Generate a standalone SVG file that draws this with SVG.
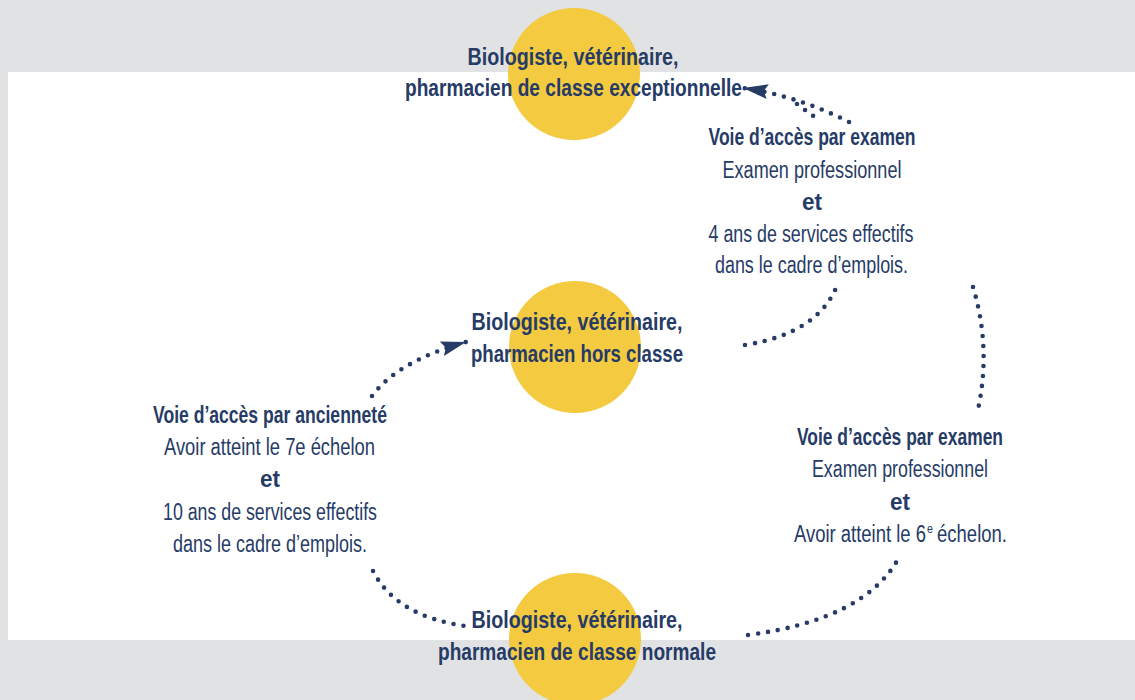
<svg xmlns="http://www.w3.org/2000/svg" width="1135" height="700" viewBox="0 0 1135 700">
<style>
.t{font-family:"Liberation Sans",Arial,sans-serif;fill:#263b66;text-anchor:middle}
.s{text-anchor:start}
.b{font-weight:bold;font-size:24.5px}
.r{font-size:23px}
.dots{fill:none;stroke:#263b66;stroke-width:4.6;stroke-linecap:round;stroke-dasharray:0 10}
.circ{fill:#f3ca40}
</style>
<defs>
<marker id="ah" markerUnits="userSpaceOnUse" markerWidth="32" markerHeight="22" viewBox="-27 -11 32 22" refX="0" refY="0" orient="auto">
<path d="M0,0 L-25,-7.5 L-21,0 L-25,7.5 Z" fill="#263b66"/>
</marker>
</defs>
<rect x="0" y="0" width="1135" height="700" fill="#e1e2e4"/>
<rect x="8" y="72" width="1127" height="568" fill="#ffffff"/>

<g id="connectors">
<path class="dots" d="M849 122 Q798 96 743 88" marker-end="url(#ah)"/>
<path class="dots" d="M797 104 L816 118"/>
<path class="dots" d="M745 345 Q820 333 838 283"/>
<path class="dots" d="M973 287 Q992 350 977 414"/>
<path class="dots" d="M748 635 Q862 620 897 561"/>
<path class="dots" d="M373 571 Q396 616 465 626"/>
<path class="dots" d="M372 396 Q398 361 466 342" marker-end="url(#ah)"/>
</g>

<g id="node-exceptionnelle">
<circle class="circ" cx="574" cy="74" r="66"/>
<text class="t b" x="573" y="65" textLength="211" lengthAdjust="spacingAndGlyphs">Biologiste, vétérinaire,</text>
<text class="t b" x="573.5" y="96" textLength="337" lengthAdjust="spacingAndGlyphs">pharmacien de classe exceptionnelle</text>
</g>

<g id="node-hors-classe">
<circle class="circ" cx="575" cy="347" r="66"/>
<text class="t b" x="577" y="330" textLength="211" lengthAdjust="spacingAndGlyphs">Biologiste, vétérinaire,</text>
<text class="t b" x="577" y="362" textLength="212" lengthAdjust="spacingAndGlyphs">pharmacien hors classe</text>
</g>

<g id="node-normale">
<circle class="circ" cx="575" cy="639" r="66"/>
<text class="t b" x="577" y="628" textLength="211" lengthAdjust="spacingAndGlyphs">Biologiste, vétérinaire,</text>
<text class="t b" x="577" y="660" textLength="278" lengthAdjust="spacingAndGlyphs">pharmacien de classe normale</text>
</g>

<g id="label-examen-exceptionnelle">
<text class="t b" x="812" y="145" textLength="207" lengthAdjust="spacingAndGlyphs">Voie d’accès par examen</text>
<text class="t r" x="812" y="178" textLength="179" lengthAdjust="spacingAndGlyphs">Examen professionnel</text>
<text class="t b" x="812" y="210" textLength="20" lengthAdjust="spacingAndGlyphs">et</text>
<text class="t r" x="811" y="242" textLength="205" lengthAdjust="spacingAndGlyphs">4 ans de services effectifs</text>
<text class="t r" x="811.5" y="273" textLength="193" lengthAdjust="spacingAndGlyphs">dans le cadre d’emplois.</text>
</g>

<g id="label-examen-hors-classe">
<text class="t b" x="900" y="445" textLength="206" lengthAdjust="spacingAndGlyphs">Voie d’accès par examen</text>
<text class="t r" x="900" y="477" textLength="176" lengthAdjust="spacingAndGlyphs">Examen professionnel</text>
<text class="t b" x="900" y="510" textLength="20" lengthAdjust="spacingAndGlyphs">et</text>
<text class="t r s" x="794" y="542" textLength="132" lengthAdjust="spacingAndGlyphs">Avoir atteint le 6</text>
<text class="t s" x="927" y="533" font-size="12" textLength="6" lengthAdjust="spacingAndGlyphs">e</text>
<text class="t r s" x="937" y="542" textLength="70" lengthAdjust="spacingAndGlyphs">échelon.</text>
</g>

<g id="label-anciennete">
<text class="t b" x="270" y="423" textLength="234" lengthAdjust="spacingAndGlyphs">Voie d’accès par ancienneté</text>
<text class="t r" x="269.5" y="455" textLength="211" lengthAdjust="spacingAndGlyphs">Avoir atteint le 7e échelon</text>
<text class="t b" x="270" y="487" textLength="20" lengthAdjust="spacingAndGlyphs">et</text>
<text class="t r" x="270" y="520" textLength="214" lengthAdjust="spacingAndGlyphs">10 ans de services effectifs</text>
<text class="t r" x="270" y="552" textLength="194" lengthAdjust="spacingAndGlyphs">dans le cadre d’emplois.</text>
</g>
</svg>
